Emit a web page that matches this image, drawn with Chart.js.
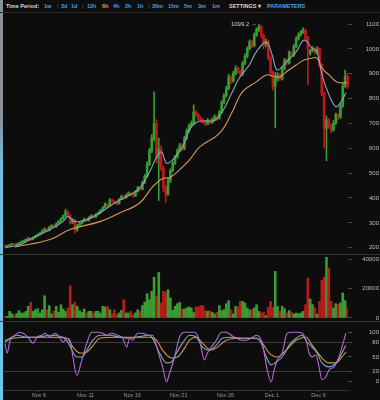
<!DOCTYPE html>
<html><head><meta charset="utf-8">
<script src="https://cdn.jsdelivr.net/npm/chart.js@4.4.1/dist/chart.umd.min.js"></script>
<style>
html,body{margin:0;padding:0;background:#0d0d0d;width:380px;height:400px;overflow:hidden;font-family:"Liberation Sans",Arial,sans-serif}
#strip{position:absolute;left:0;top:0;width:3px;height:400px;background:linear-gradient(#8a9298 0px,#8a9298 120px,#74bfe4 170px,#6cc6ee 400px)}
#toolbar{position:absolute;left:0;top:0;width:380px;height:12px;border-bottom:1px solid #2c2c2c}
.t{position:absolute;top:3px;font-size:5.5px;font-weight:bold;line-height:7px;white-space:nowrap;color:#4a9fe2}
.w{color:#d8d8d8}.o{color:#e89c3c}.s{color:#444}
.sep{position:absolute;left:0;width:380px;height:1px;background:#333}
canvas{position:absolute;left:0}
</style></head><body>
<div id="strip"></div>
<div id="toolbar">
<span class="t w" style="left:6px">Time Period:</span>
<span class="t" style="left:44px">1w</span><span class="t s" style="left:57px">|</span>
<span class="t" style="left:61px">3d</span><span class="t" style="left:71px">1d</span><span class="t s" style="left:82px">|</span>
<span class="t" style="left:87px">12h</span><span class="t o" style="left:102px">6h</span><span class="t" style="left:113px">4h</span><span class="t" style="left:125px">2h</span><span class="t" style="left:137px">1h</span><span class="t s" style="left:148px">|</span>
<span class="t" style="left:152px">30m</span><span class="t" style="left:168px">15m</span><span class="t" style="left:184px">5m</span><span class="t" style="left:198px">3m</span><span class="t" style="left:212px">1m</span>
<span class="t w" style="left:229px">SETTINGS ▾</span>
<span class="t" style="left:267px;color:#4aa3ee">PARAMETERS</span>
</div>
<canvas id="c1" width="380" height="239" style="top:15px"></canvas>
<canvas id="c2" width="380" height="66" style="top:255px"></canvas>
<canvas id="c3" width="380" height="78" style="top:322px"></canvas>
<div class="sep" style="top:254px"></div>
<div class="sep" style="top:321px"></div>
<script>
// ---- data ----
const T0 = 2.35, STEP = 0.25; // day-of-November of first 6h candle
const opens = [209,205,208,212,215,211,215,220,224,229,233,238,233,241,247,253,259,268,275,269,282,290,284,296,306,316,328,345,330,300,312,272,288,298,306,315,309,320,329,323,333,340,350,362,376,369,392,387,381,377,395,407,401,412,420,414,408,426,442,435,462,488,535,590,640,700,560,600,520,440,415,470,510,540,565,590,612,598,640,670,690,700,745,735,722,712,705,698,712,704,714,728,720,745,785,812,840,885,870,900,922,910,898,942,970,1000,1028,1012,1055,1078,1090,1055,1015,1030,965,905,850,880,895,880,920,955,942,985,975,1010,1040,1058,1068,1076,1045,982,992,1002,985,1000,935,820,680,715,690,675,700,735,725,770,850,890];
const highs = [211,210,214,217,216,217,222,227,231,236,242,240,244,250,256,262,272,280,277,286,293,292,300,310,320,332,355,348,333,318,314,294,302,310,319,318,325,333,331,337,344,354,366,381,379,398,396,390,384,399,412,410,416,425,422,417,430,447,445,468,495,545,600,655,827,715,640,610,528,450,478,518,548,572,598,620,618,648,678,698,710,775,752,740,728,718,710,720,716,722,735,732,752,792,820,850,898,892,910,932,928,915,950,980,1008,1036,1034,1064,1085,1099.2,1094,1060,1040,1036,972,912,905,905,900,928,962,960,992,990,1018,1048,1065,1075,1085,1080,1050,998,1010,1006,1008,1004,940,826,730,720,698,712,742,740,780,860,915,900];
const lows = [203,204,206,210,209,210,213,218,222,227,231,228,231,239,245,250,257,265,264,267,279,280,282,293,303,313,325,325,295,296,258,266,285,295,303,305,307,318,319,321,331,338,348,360,364,367,383,377,372,375,393,396,399,410,410,404,406,424,430,433,458,484,530,582,630,540,390,510,425,382,410,462,505,534,560,585,590,594,635,664,684,696,728,714,705,698,690,694,698,700,710,712,716,740,778,805,835,860,866,895,902,888,892,936,964,995,1005,1008,1050,1070,1045,1000,1008,955,890,835,682,870,872,875,914,935,938,968,970,1005,1035,1052,1062,1038,855,975,988,980,980,925,810,600,550,680,662,668,695,715,720,765,845,840];
const closes = [205,208,212,215,211,215,220,224,229,233,238,233,241,247,253,259,268,275,269,282,290,284,296,306,316,328,345,330,300,312,272,288,298,306,315,309,320,329,323,333,340,350,362,376,369,392,387,381,377,395,407,401,412,420,414,408,426,442,435,462,488,535,590,640,700,560,600,520,440,415,470,510,540,565,590,612,598,640,670,690,700,745,735,722,712,705,698,712,704,714,728,720,745,785,812,840,885,870,900,922,910,898,942,970,1000,1028,1012,1055,1078,1090,1055,1015,1030,965,905,850,880,895,880,920,955,942,985,975,1010,1040,1058,1068,1076,1045,1000,992,1002,985,1000,935,820,680,715,690,675,700,735,725,770,850,890,848];
const volumes = [1100,1100,4500,2900,1800,2900,5000,3400,3400,4500,7900,10600,4500,5600,6300,3400,5600,15100,5600,8400,2700,4500,7900,3800,9000,6100,4500,6800,21900,9000,10800,7900,5000,3800,6100,3400,4500,4500,3400,4500,4500,3400,7900,7500,7900,5600,2900,5600,2300,3400,5200,12400,3400,3400,4500,2300,3400,5600,4500,8400,10800,16500,12400,18100,27600,14700,31000,10200,18100,17600,19200,13600,5200,7900,9700,10600,6100,6100,6800,7500,6800,3800,7500,7500,8400,8400,5000,4500,5000,3800,2700,3800,8400,5000,5600,9700,11800,5600,2900,7900,7500,11300,11300,10200,6800,5600,5600,6800,9000,4500,3400,3800,1600,7200,11300,7200,31600,7900,4500,7900,6300,3400,5000,3800,2700,3400,2900,3400,4500,9000,27100,12900,9000,6800,2700,11300,25500,27600,41100,33900,11300,6800,9700,9000,10200,17000,11800,6800];
// moving averages (day, price)
const maFastDays = [2.36,3.97,5.36,7.18,8.57,9.10,9.85,11.13,12.52,14.34,15.41,16.80,17.87,18.62,19.16,19.69,20.33,21.40,22.15,22.90,23.75,24.82,25.68,26.75,27.50,28.57,29.32,30.39,31.03,31.56,32.52,33.59,34.45,35.31,35.84,36.37,37.12,37.87,38.41,38.94];
const maFastVals = [200,212,240,273,305,325,305,313,340,385,405,440,505,565,585,540,553,605,675,705,710,712,747,827,883,935,988,1027,975,915,947,988,1035,1003,988,895,815,767,787,823];
const maSlowDays = [3.43,7.18,9.32,12.52,14.66,16.80,18.19,19.26,20.01,21.08,22.15,23.22,25.36,26.75,27.82,29.32,30.39,31.03,31.78,32.52,33.59,34.45,35.31,35.84,36.37,37.12,37.98,39.05];
const maSlowVals = [203,233,273,305,340,380,445,478,482,513,553,605,660,747,827,867,895,891,887,907,935,955,963,963,923,895,867,863];
// oscillator (day, value)
const oscFastDays = [2.36,2.58,2.90,3.43,3.97,4.29,4.82,5.36,5.79,6.32,6.64,7.18,7.71,8.25,8.57,9.00,9.32,9.64,10.06,10.60,11.13,11.67,12.31,12.85,13.27,13.81,14.45,14.98,15.41,15.73,16.05,16.59,17.12,17.66,18.19,18.73,19.26,19.69,20.01,20.55,21.08,21.62,22.15,22.68,23.22,23.75,24.08,24.50,25.04,25.57,26.11,26.64,27.18,27.71,28.25,28.78,29.32,29.85,30.17,30.49,30.92,31.24,31.56,32.10,32.63,33.17,33.70,34.24,34.66,34.99,35.31,35.73,36.05,36.37,36.80,37.12,37.66,38.19,38.51,38.94];
const oscFastVals = [77,58,84,94,100,98,90,78,90,94,98,90,98,88,80,88,84,50,13,44,78,100,100,98,94,98,94,88,70,88,84,98,98,94,94,64,30,0,17,50,90,100,100,100,84,44,58,70,84,100,100,94,88,84,84,88,94,84,58,24,0,24,44,58,98,100,100,98,84,58,50,54,30,4,10,24,30,50,70,98];
const oscMidDays = [2.36,2.90,3.65,4.72,5.79,7.18,8.57,9.10,9.64,10.06,10.60,11.13,11.78,12.52,13.59,14.66,15.41,16.48,17.87,18.41,18.94,19.69,20.23,20.76,21.40,22.15,22.90,23.54,24.29,25.04,25.68,26.75,27.82,29.32,29.85,30.39,30.92,31.46,32.10,32.85,33.59,34.24,34.77,35.31,35.84,36.37,37.12,37.87,38.51,38.94];
const oscMidVals = [80,88,94,90,90,94,90,80,60,50,50,64,84,94,94,90,88,90,94,80,58,38,40,58,78,94,90,70,64,74,88,90,88,88,78,50,34,40,50,74,88,94,80,70,58,38,30,38,58,74];
const oscSlowDays = [2.36,3.22,4.72,7.18,9.00,9.64,10.39,10.92,11.67,12.52,14.34,17.87,18.62,19.26,20.23,20.87,21.62,22.15,22.90,23.54,24.50,25.15,26.11,27.50,29.32,29.96,30.70,31.56,32.52,33.59,34.66,35.31,36.27,37.12,37.87,38.51,38.94];
const oscSlowVals = [84,88,90,90,88,70,58,58,70,88,90,90,84,64,48,50,68,84,90,78,64,70,84,88,88,78,58,50,64,84,90,74,50,38,38,50,60];
// axis ticks
const priceTicks = [200,300,400,500,600,700,800,900,1000,1100];
const volumeTicks = [0,20000,40000];
const oscTicks = [0,20,50,80,100];
const oscGridLevels = [20,80];
const dateTickDays = [6,11,16,21,26,31,36];
const dateTickLabels = ['Nov 6','Nov 11','Nov 16','Nov 21','Nov 26','Dec 1','Dec 6'];

// ---- setup ----
const X_MIN = 2.245, X_MAX = 39.16;
const GREEN = '#35a02f', RED = '#c4171c';
const times = closes.map((_, i) => T0 + i * STEP);
const up = closes.map((c, i) => c >= opens[i]);
const candleColors = up.map(u => u ? GREEN : RED);
const volColors = up.map(u => u ? '#3a9d33' : '#b81b1b');
const pts = (xs, ys) => xs.map((x, i) => ({x, y: ys[i]}));
const FONT = '"Liberation Sans", Arial, sans-serif';
Chart.defaults.font.family = FONT;
Chart.defaults.animation = false;

const xScale = {type:'linear', min:X_MIN, max:X_MAX, display:false, offset:false, grid:{offset:false}};
function yScale(min, max, ticks, pad, extra) {
  return Object.assign({
    position:'right', min, max,
    afterBuildTicks: s => { s.ticks = ticks.map(v => ({value:v})); },
    afterFit: s => { s.width = 31; s.paddingTop = 0; s.paddingBottom = 0; },
    grid:{drawOnChartArea:false, drawTicks:true, tickLength:4, tickColor:'#4a4a4a'},
    border:{display:false},
    ticks:{crossAlign:'far', padding:pad, color:'#bdbdbd', font:{size:6}, callback: v => String(v)}
  }, extra || {});
}
const basePlugins = {legend:{display:false}, tooltip:{enabled:false}};
const layout = {padding:{left:4, right:1, top:0, bottom:0}};

const hiLabel = {
  id:'hiLabel',
  afterDatasetsDraw(c) {
    const mx = Math.max(...highs), i = highs.indexOf(mx);
    const x = c.scales.x.getPixelForValue(times[i]), y = c.scales.y.getPixelForValue(mx);
    const ctx = c.ctx; ctx.save();
    ctx.font = '6px ' + FONT; ctx.fillStyle = '#d0d0d0'; ctx.textAlign = 'right'; ctx.textBaseline = 'middle';
    ctx.fillText(mx.toFixed(1) + ' →', x - 2, y);
    ctx.restore();
  }
};

new Chart(document.getElementById('c1'), {
  type:'bar',
  data:{datasets:[
    {type:'line', data:pts(maFastDays, maFastVals), borderColor:'#88a4be', borderWidth:1.1, pointRadius:0, tension:0.4},
    {type:'line', data:pts(maSlowDays, maSlowVals), borderColor:'#d69a55', borderWidth:1.1, pointRadius:0, tension:0.4},
    {data:times.map((t, i) => ({x:t, y:[opens[i], closes[i]]})), backgroundColor:candleColors, barThickness:2, minBarLength:1, grouped:false, clip:false},
    {data:times.map((t, i) => ({x:t, y:[lows[i], highs[i]]})), backgroundColor:candleColors, barThickness:1, grouped:false, clip:false}
  ]},
  options:{responsive:false, layout:{padding:{left:4, right:1, top:1, bottom:1}}, plugins:basePlugins,
    scales:{x:xScale, y:yScale(178.7, 1132.2, priceTicks, 13)}},
  plugins:[hiLabel]
});

new Chart(document.getElementById('c2'), {
  type:'bar',
  data:{datasets:[{data:times.map((t, i) => ({x:t, y:volumes[i]})), backgroundColor:volColors, barThickness:2, grouped:false}]},
  options:{responsive:false, layout, plugins:basePlugins,
    scales:{x:xScale, y:yScale(-2034, 42712, volumeTicks, 10)}}
});

new Chart(document.getElementById('c3'), {
  type:'line',
  data:{datasets:[
    {data:pts(oscFastDays, oscFastVals), borderColor:'#b86ad2', borderWidth:1.1, pointRadius:0, cubicInterpolationMode:'monotone'},
    {data:pts(oscMidDays, oscMidVals), borderColor:'#78adc0', borderWidth:1.1, pointRadius:0, cubicInterpolationMode:'monotone'},
    {data:pts(oscSlowDays, oscSlowVals), borderColor:'#d8983c', borderWidth:1.1, pointRadius:0, cubicInterpolationMode:'monotone'}
  ]},
  options:{responsive:false, layout, plugins:basePlugins,
    scales:{
      x:{type:'linear', min:X_MIN, max:X_MAX, offset:false, position:'bottom',
        afterBuildTicks: s => { s.ticks = dateTickDays.map(v => ({value:v})); },
        afterFit: s => { s.height = 10; s.paddingLeft = 0; s.paddingRight = 0; },
        grid:{drawOnChartArea:false, drawTicks:true, tickLength:2, tickColor:'#4a4a4a'},
        border:{display:true, color:'#333'},
        ticks:{autoSkip:false, maxRotation:0, padding:0, color:'#9a9a9a', font:{size:5.5},
          callback:(v, i) => dateTickLabels[i]}},
      y:yScale(-16.8, 120.8, oscTicks, 16, {
        grid:{drawOnChartArea:true, drawTicks:true, tickLength:4, tickColor:'#4a4a4a',
          color: c => (c.tick && oscGridLevels.includes(c.tick.value)) ? '#3a3a3a' : 'rgba(0,0,0,0)'}
      })
    }}
});
</script>
</body></html>
